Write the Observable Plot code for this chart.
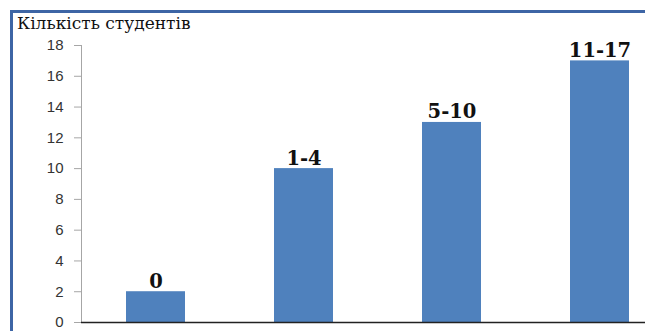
<!DOCTYPE html>
<html>
<head>
<meta charset="utf-8">
<script src="https://cdn.jsdelivr.net/npm/d3@7"></script>
<script src="https://cdn.jsdelivr.net/npm/@observablehq/plot@0.6"></script>
<style>
  html, body { margin: 0; padding: 0; background: #ffffff; overflow: hidden; }
  #wrap { position: relative; width: 645px; height: 331px; overflow: hidden; background: #fff; }
  #frame { position: absolute; left: 10px; top: 10px; width: 700px; height: 400px;
           border-top: 3px solid #3d65a5; border-left: 3px solid #3d65a5; box-sizing: border-box; }
  #title { position: absolute; left: 17px; top: 13px; font-family: "DejaVu Serif", serif;
           font-size: 17px; color: #111; white-space: nowrap; }
  #chart { position: absolute; left: 0; top: 0; }
</style>
</head>
<body>
<div id="wrap">
  <div id="frame"></div>
  <div id="chart"></div>
  <div id="title">Кількість студентів</div>
</div>
<script>
const categories = ["0", "1-4", "5-10", "11-17"];
const counts = [2, 10, 13, 17];
const yTicks = [0, 2, 4, 6, 8, 10, 12, 14, 16, 18];

const data = categories.map((c, i) => ({cat: c, n: counts[i]}));

const chart = Plot.plot({
  width: 645,
  height: 331,
  marginTop: 45,
  marginBottom: 9,
  marginLeft: 81,
  marginRight: 0,
  style: {background: "transparent", overflow: "hidden", fontSize: "15px",
          fontFamily: "Liberation Sans, Arial, sans-serif"},
  x: {domain: categories, range: [81, 675], paddingInner: 0.6, paddingOuter: 0.3, axis: null},
  y: {domain: [0, 18], ticks: yTicks, label: null},
  marks: [
    Plot.frame({anchor: "left", stroke: "#a6a6a6"}),
    Plot.axisY({ticks: yTicks, tickSize: 7, tickPadding: 11, stroke: "#a6a6a6",
      fontSize: 15, fill: "#333", label: null}),
    Plot.barY(data, {x: "cat", y: "n", fill: "#4f81bd"}),
    Plot.ruleY([0], {stroke: "#222", strokeWidth: 1.5}),
    Plot.text(data, {x: "cat", y: "n", text: "cat", dy: -4, lineAnchor: "bottom",
      fontFamily: "DejaVu Serif, serif", fontWeight: "bold", fontSize: 19.5, fill: "#111"})
  ]
});
document.getElementById("chart").appendChild(chart);
</script>
</body>
</html>
